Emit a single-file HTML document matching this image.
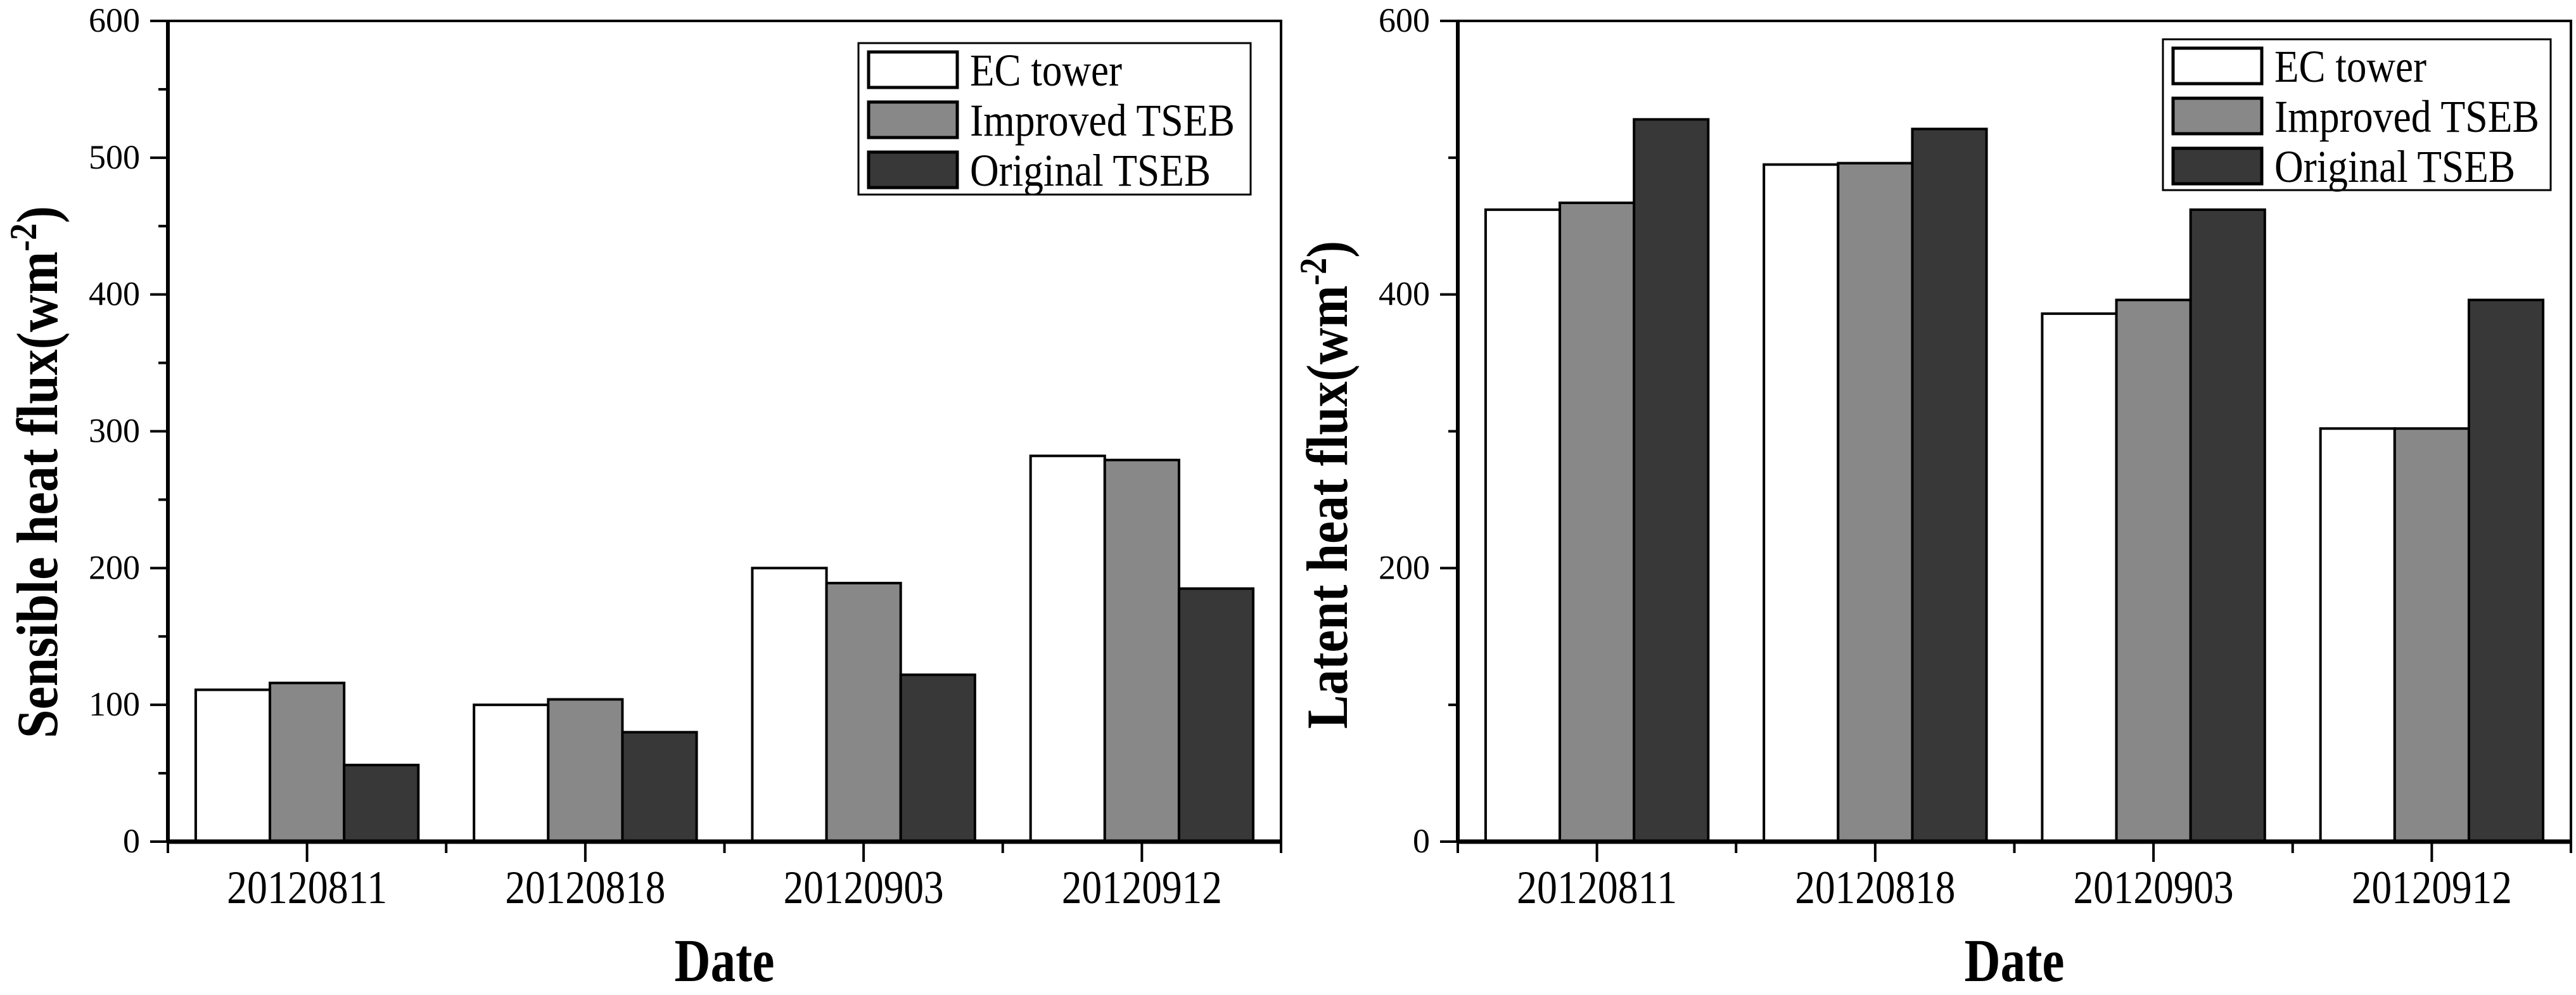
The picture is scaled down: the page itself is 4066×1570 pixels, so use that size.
<!DOCTYPE html>
<html><head><meta charset="utf-8"><style>
html,body{margin:0;padding:0;background:#fff}
svg{display:block;font-family:"Liberation Serif",serif}
</style></head><body>
<svg id="svg" width="4066" height="1570" viewBox="0 0 4066 1570" xmlns="http://www.w3.org/2000/svg"></svg>
<script>
const categories = ["20120811","20120818","20120903","20120912"];
const seriesNames = ["EC tower","Improved TSEB","Original TSEB"];
const sensibleEC = [111,100,200,282];
const sensibleImproved = [116,104,189,279];
const sensibleOriginal = [56,80,122,185];
const latentEC = [462,495,386,302];
const latentImproved = [467,496,396,302];
const latentOriginal = [528,521,462,396];
const leftTicks = [0,100,200,300,400,500,600];
const rightTicks = [0,200,400,600];
const fills = ["#ffffff","#888888","#383838"];
const NS="http://www.w3.org/2000/svg";
const svg=document.getElementById('svg');
function el(tag,attrs,parent,text){const e=document.createElementNS(NS,tag);for(const k in attrs)e.setAttribute(k,attrs[k]);if(text!==undefined)e.textContent=text;(parent||svg).appendChild(e);return e;}

function drawChart(cfg){
  const g=el('g',{});
  
  
  const x0=cfg.x0,x1=cfg.x1,y0=1328,y1=33;
  const yScale=v=>y0-(v-0)/(600)*(y0-y1);
  const band=(x1-x0)/categories.length;
  const bw=band*0.8/3;
  const xCenter=i=>x0+band*(i+0.5);
  cfg.series.forEach((vals,s)=>{
    vals.forEach((v,i)=>{
      const bx=xCenter(i)-1.5*bw+s*bw;
      const r=el('rect',{x:bx,y:yScale(v),width:bw,height:y0-yScale(v),fill:fills[s],stroke:'#000','stroke-width':4},g);
      
      
    });
  });
  const fr=el('rect',{x:x0,y:y1,width:x1-x0,height:y0-y1,fill:'none',stroke:'#000','stroke-width':4},g);
  
  
  el('line',{x1:x0,y1:y0,x2:x1,y2:y0,stroke:'#000','stroke-width':7},g);
  el('line',{x1:x0,y1:y0,x2:x0,y2:y1,stroke:'#000','stroke-width':6},g);
  const ticks=cfg.ticks;
  const step=ticks[1]-ticks[0];
  for(let k=0;k<ticks.length;k++){
    const v=ticks[k];
    el('line',{x1:x0-28,y1:yScale(v),x2:x0,y2:yScale(v),stroke:'#000','stroke-width':4},g);
    const t=el('text',{x:x0-44,y:yScale(v)+17,'text-anchor':'end','font-size':54},g,String(v));
    
    
    if(k<ticks.length-1){const m=v+step/2;el('line',{x1:x0-15,y1:yScale(m),x2:x0,y2:yScale(m),stroke:'#000','stroke-width':4},g);}
  }
  for(let i=0;i<=categories.length;i++){
    const bx=x0+band*i;
    el('line',{x1:bx,y1:y0,x2:bx,y2:y0+18,stroke:'#000','stroke-width':4},g);
  }
  categories.forEach((c,i)=>{
    el('line',{x1:xCenter(i),y1:y0,x2:xCenter(i),y2:y0+32,stroke:'#000','stroke-width':4},g);
    const t=el('text',{x:xCenter(i),y:1425,'text-anchor':'middle','font-size':74,textLength:253,lengthAdjust:'spacingAndGlyphs'},g,c);
    
    
  });
  const xt=el('text',{x:(x0+x1)/2,y:1548,'text-anchor':'middle','font-size':96,'font-weight':'bold',textLength:158,lengthAdjust:'spacingAndGlyphs'},g,'Date');
  
  
  const yt=el('text',{transform:`translate(${cfg.titleX},${cfg.titleY}) rotate(-90)`,'text-anchor':'middle','font-size':92,'font-weight':'bold',textLength:cfg.titleLen,lengthAdjust:'spacingAndGlyphs'},g);
  
  
  el('tspan',{},yt,cfg.title+'(wm');
  el('tspan',{'baseline-shift':'super','font-size':60},yt,'-2');
  el('tspan',{},yt,')');
  const L=cfg.legend;
  const lg=el('g',{},g);
  
  
  el('rect',{x:L.x,y:L.y,width:L.w,height:L.h,fill:'#fff',stroke:'#000','stroke-width':3},lg);
  seriesNames.forEach((n,s)=>{
    const sy=L.y+14+s*79;
    const e=el('g',{},lg);
    
    
    el('rect',{x:L.x+16,y:sy,width:140,height:56,fill:fills[s],stroke:'#000','stroke-width':5},e);
    el('text',{x:L.x+176,y:sy+53,'font-size':72,textLength:[240,418,380][s],lengthAdjust:'spacingAndGlyphs'},e,n);
  });
}
drawChart({name:'sensible-heat-chart',x0:265,x1:2022,series:[sensibleEC,sensibleImproved,sensibleOriginal],ticks:leftTicks,
  title:'Sensible heat flux',titleX:90,titleY:745,titleLen:840,legend:{x:1355,y:68,w:619,h:239}});
drawChart({name:'latent-heat-chart',x0:2301,x1:4058,series:[latentEC,latentImproved,latentOriginal],ticks:rightTicks,
  title:'Latent heat flux',titleX:2126,titleY:765,titleLen:770,legend:{x:3414,y:62,w:612,h:238}});
</script>
</body></html>
